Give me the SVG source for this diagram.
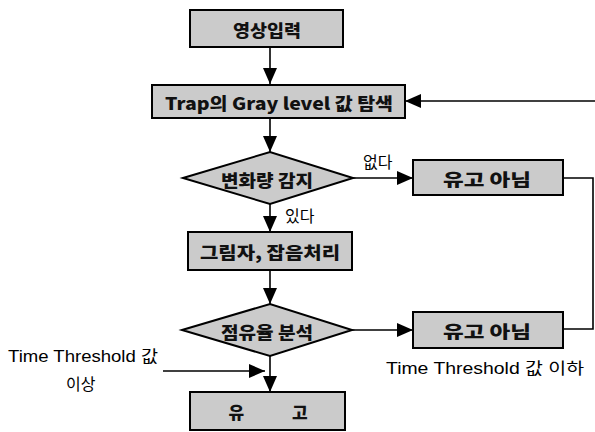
<svg xmlns="http://www.w3.org/2000/svg" width="595" height="432" viewBox="0 0 595 432">
<style>
.box{fill:#cbcbcb;stroke:#000;stroke-width:2}
.bt{font-family:"Noto Sans CJK KR","Noto Sans",sans-serif;font-weight:900;font-size:17px;fill:#111;text-anchor:middle;dominant-baseline:central}
.lb{font-family:"Liberation Sans","Noto Sans CJK KR",sans-serif;font-size:16px;fill:#000}
.ln{fill:none;stroke:#000;stroke-width:1.6}
</style>
<defs>
<marker id="ahb" viewBox="0 0 16 14" refX="16" refY="7" markerWidth="16" markerHeight="14" markerUnits="userSpaceOnUse" orient="auto">
<path d="M0,0 L16,7 L0,14 z" fill="#000"/>
</marker>
</defs>
<g id="connectors">
<path class="ln" d="M270,48 V84" marker-end="url(#ahb)"/>
<path class="ln" d="M595,101 H405" marker-end="url(#ahb)"/>
<path class="ln" d="M270,118 V152" marker-end="url(#ahb)"/>
<path class="ln" d="M353,178 H413" marker-end="url(#ahb)"/>
<path class="ln" d="M270,204 V232" marker-end="url(#ahb)"/>
<path class="ln" d="M563,178 H593 V329 H563"/>
<path class="ln" d="M270,270 V304" marker-end="url(#ahb)"/>
<path class="ln" d="M352,330 H413" marker-end="url(#ahb)"/>
<path class="ln" d="M270,356 V392" marker-end="url(#ahb)"/>
<path class="ln" d="M163,371 H265" marker-end="url(#ahb)"/>
</g>
<g id="n1"><rect class="box" x="190" y="10" width="153" height="37"/><text class="bt" x="267" y="29" textLength="68" lengthAdjust="spacingAndGlyphs">영상입력</text></g>
<g id="n2"><rect class="box" x="152" y="85" width="253" height="33"/><text class="bt" x="279" y="102" textLength="228" lengthAdjust="spacingAndGlyphs">Trap의 Gray level 값 탐색</text></g>
<g id="n3"><polygon class="box" points="183,178 270,152 353,178 270,204"/><text class="bt" x="267" y="179" textLength="92" lengthAdjust="spacingAndGlyphs">변화량 감지</text></g>
<g id="n4"><rect class="box" x="413" y="160" width="150" height="35"/><text class="bt" x="487" y="178" textLength="88" lengthAdjust="spacingAndGlyphs">유고 아님</text></g>
<g id="n5"><rect class="box" x="188" y="232" width="164" height="38"/><text class="bt" x="270" y="251" textLength="140" lengthAdjust="spacingAndGlyphs">그림자, 잡음처리</text></g>
<g id="n6"><polygon class="box" points="182,330 270,304 352,330 270,356"/><text class="bt" x="267" y="331" textLength="92" lengthAdjust="spacingAndGlyphs">점유율 분석</text></g>
<g id="n7"><rect class="box" x="413" y="312" width="150" height="36"/><text class="bt" x="487" y="330" textLength="88" lengthAdjust="spacingAndGlyphs">유고 아님</text></g>
<g id="n8"><rect class="box" x="190" y="392" width="155" height="38"/><text class="bt" x="268" y="411" style="word-spacing:44px">유 고</text></g>
<g id="labels">
<text class="lb" x="363" y="168">없다</text>
<text class="lb" x="285" y="222">있다</text>
<text class="lb" x="8" y="362" textLength="150" lengthAdjust="spacingAndGlyphs">Time Threshold 값</text>
<text class="lb" x="66" y="390">이상</text>
<text class="lb" x="386" y="374" textLength="198" lengthAdjust="spacingAndGlyphs">Time Threshold 값 이하</text>
</g>
</svg>
